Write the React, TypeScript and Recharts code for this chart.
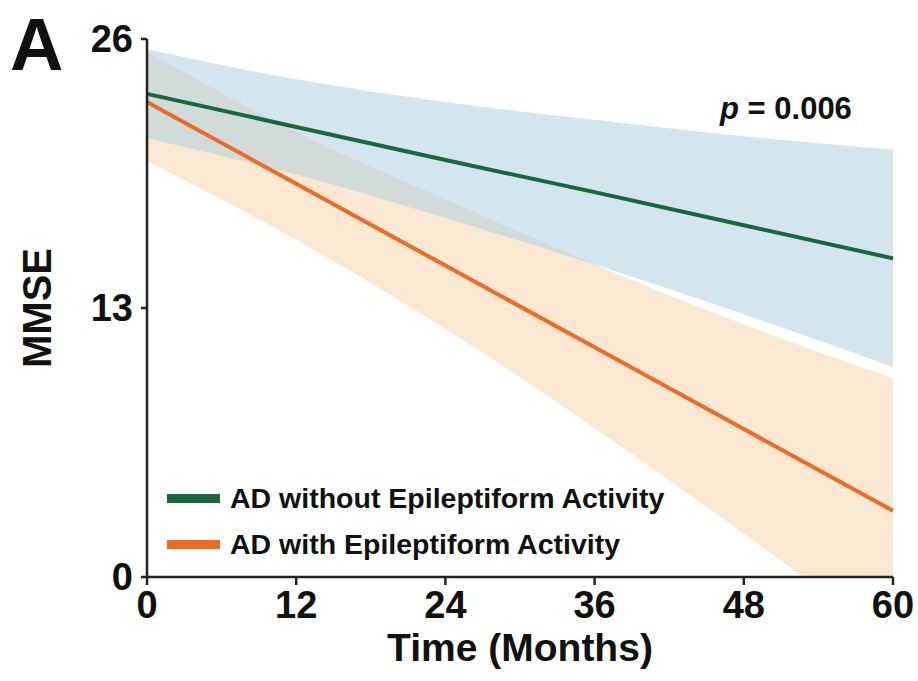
import { ComposedChart, Area, Line, XAxis, YAxis, Label } from 'recharts'

// ─── Data ─────────────────────────────────────────────────────────────────────

const MONTHS = [0, 12, 24, 36, 48, 60]

// AD without epileptiform activity
const NO_EPI_FIT   = [23.35, 21.75, 20.15, 18.6, 17.0, 15.4]
const NO_EPI_LOW   = [21.2, 19.45, 17.35, 15.1, 12.7, 10.15]
const NO_EPI_HIGH  = [25.5, 24.05, 22.95, 22.1, 21.3, 20.65]

// AD with epileptiform activity
const EPI_FIT  = [22.95, 19.0, 15.05, 11.1, 7.15, 3.2]
const EPI_LOW  = [20.1, 16.3, 12.0, 7.2, 2.1, -3.2]
const EPI_HIGH = [25.4, 21.5, 18.25, 15.1, 12.2, 9.6]

const X_TICKS = [0, 12, 24, 36, 48, 60]
const Y_TICKS = [0, 13, 26]

const SERIES_NAMES = ['AD without Epileptiform Activity', 'AD with Epileptiform Activity']
const P_VALUE = '0.006'

// ─── Styles ───────────────────────────────────────────────────────────────────

const FONT = '"Liberation Sans", Arial, Helvetica, sans-serif'
const GREEN = '#17683c'
const ORANGE = '#ee6b1f'
const AXIS = '#222'

const data = MONTHS.map((m, i) => ({
  month: m,
  noEpi: NO_EPI_FIT[i],
  noEpiBand: [NO_EPI_LOW[i], NO_EPI_HIGH[i]],
  epi: EPI_FIT[i],
  epiBand: [EPI_LOW[i], EPI_HIGH[i]],
}))

const tickStyle = { fill: '#111', fontSize: 38, fontWeight: 700, fontFamily: FONT }

export default function App() {
  return (
    <div style={{ position: 'absolute', left: 0, top: 0, width: 918, height: 681, background: '#fff', fontFamily: FONT }}>
      <ComposedChart width={918} height={681} data={data} margin={{ top: 39, right: 25, bottom: 0, left: 0 }}>
        <XAxis
          dataKey="month"
          type="number"
          domain={[0, 60]}
          ticks={X_TICKS}
          height={104}
          tick={tickStyle}
          tickSize={8}
          tickMargin={6}
          stroke={AXIS}
          strokeWidth={2.5}
        >
          <Label
            content={({ viewBox }: any) => (
              <text
                x={viewBox.x + viewBox.width / 2}
                y={viewBox.y + 84}
                textAnchor="middle"
                style={{ fontSize: 39, fontWeight: 700, fontFamily: FONT, fill: '#111' }}
              >
                Time (Months)
              </text>
            )}
          />
        </XAxis>
        <YAxis
          type="number"
          domain={[0, 26]}
          ticks={Y_TICKS}
          allowDataOverflow
          width={147}
          tick={tickStyle}
          tickSize={6}
          tickMargin={8}
          stroke={AXIS}
          strokeWidth={2.5}
        >
          <Label
            content={({ viewBox }: any) => (
              <text
                x={51}
                y={viewBox.y + viewBox.height / 2}
                textAnchor="middle"
                transform={`rotate(-90, 51, ${viewBox.y + viewBox.height / 2})`}
                style={{ fontSize: 40, fontWeight: 700, fontFamily: FONT, fill: '#111' }}
              >
                MMSE
              </text>
            )}
          />
        </YAxis>

        <Area
          dataKey="epiBand"
          type="monotone"
          stroke="none"
          fill="#f8d2a8"
          fillOpacity={0.5}
          isAnimationActive={false}
        />
        <Area
          dataKey="noEpiBand"
          type="monotone"
          stroke="none"
          fill="#a8cde0"
          fillOpacity={0.5}
          isAnimationActive={false}
        />
        <Line dataKey="noEpi" type="linear" stroke={GREEN} strokeWidth={4} dot={false} isAnimationActive={false} />
        <Line dataKey="epi" type="linear" stroke={ORANGE} strokeWidth={4} dot={false} isAnimationActive={false} />
      </ComposedChart>

      {/* Panel letter */}
      <div style={{ position: 'absolute', left: 10, top: 8, fontSize: 74, fontWeight: 700, lineHeight: '74px', color: '#111' }}>
        A
      </div>

      {/* p-value */}
      <div style={{ position: 'absolute', left: 720, top: 92, fontSize: 31, fontWeight: 700, lineHeight: '34px', color: '#111' }}>
        <i>p</i> = {P_VALUE}
      </div>

      {/* Legend */}
      {SERIES_NAMES.map((name, i) => (
        <div
          key={name}
          style={{ position: 'absolute', left: 167, top: 481 + i * 46, display: 'flex', alignItems: 'center', gap: 10 }}
        >
          <span style={{ width: 53, height: 9, background: i === 0 ? GREEN : ORANGE, display: 'inline-block' }} />
          <span style={{ fontSize: 28.5, fontWeight: 700, color: '#111', lineHeight: '34px' }}>{name}</span>
        </div>
      ))}
    </div>
  )
}
